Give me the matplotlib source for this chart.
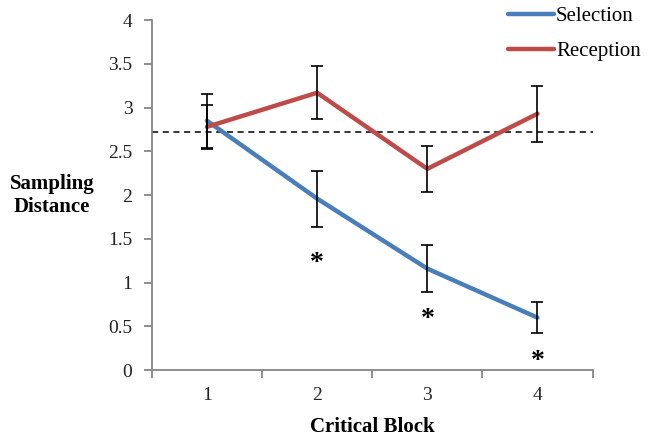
import matplotlib
matplotlib.use("Agg")
import matplotlib.pyplot as plt
from matplotlib.ticker import FixedLocator, NullFormatter

plt.rcParams['font.family'] = ['Liberation Serif', 'DejaVu Serif']

blocks = [1, 2, 3, 4]
block_labels = ["1", "2", "3", "4"]
selection = [2.85, 1.96, 1.16, 0.60]
selection_err = [0.31, 0.32, 0.27, 0.18]
reception = [2.78, 3.17, 2.30, 2.93]
reception_err = [0.25, 0.30, 0.26, 0.32]
baseline = 2.72
star_blocks = [2, 3, 4]
star_y = [1.22, 0.58, 0.10]

fig = plt.figure(figsize=(6.49, 4.37), dpi=100)
ax = fig.add_axes([0.234, 0.153, 0.679, 0.801])

blue = '#4A7EBB'
red = '#BE4B48'
axcol = '#868686'
fs = 14

ax.plot(blocks, selection, color=blue, lw=3.2, label='Selection', solid_capstyle='round', zorder=3)
ax.plot(blocks, reception, color=red, lw=3.2, label='Reception', solid_capstyle='round', zorder=3)
ax.errorbar(blocks, selection, yerr=selection_err, fmt='none', ecolor='black', elinewidth=1.2, capsize=4, capthick=1.2, zorder=4)
ax.errorbar(blocks, reception, yerr=reception_err, fmt='none', ecolor='black', elinewidth=1.2, capsize=4, capthick=1.2, zorder=4)
ax.axhline(baseline, color='black', lw=1.1, ls=(0, (4, 3)), zorder=2, clip_on=False)

for b, s in zip(star_blocks, star_y):
    ax.text(b, s, '*', ha='center', va='center', fontsize=20, fontweight='bold')

ax.set_xlim(0.5, 4.5)
ax.set_ylim(0, 4)
ax.set_yticks([0, 0.5, 1, 1.5, 2, 2.5, 3, 3.5, 4])
ax.set_yticklabels(['0', '0.5', '1', '1.5', '2', '2.5', '3', '3.5', '4'])
ax.set_xticks(blocks)
ax.set_xticklabels(block_labels)
ax.xaxis.set_minor_locator(FixedLocator([0.5, 1.5, 2.5, 3.5, 4.5]))
ax.xaxis.set_minor_formatter(NullFormatter())
ax.tick_params(axis='x', which='major', length=0, pad=12, labelsize=fs, colors='#222222')
ax.tick_params(axis='x', which='minor', length=6, width=1.3, color=axcol, direction='out')
ax.tick_params(axis='y', length=6, width=1.3, color=axcol, direction='out', labelsize=fs, pad=8, labelcolor='#222222')

for s in ['top', 'right']:
    ax.spines[s].set_visible(False)
for s in ['left', 'bottom']:
    ax.spines[s].set_color(axcol)
    ax.spines[s].set_linewidth(1.3)

fig.text(0.080, 0.553, 'Sampling\nDistance', ha='center', va='center', fontsize=15, fontweight='bold', linespacing=1.2)
fig.text(0.573, 0.022, 'Critical Block', ha='center', va='center', fontsize=15, fontweight='bold')

leg = fig.legend(loc='center left', bbox_to_anchor=(0.783, 0.923), frameon=False, fontsize=15,
                 handlelength=2.2, handletextpad=0.1, labelspacing=0.75, borderaxespad=0, borderpad=0)

fig.savefig('out.png', dpi=100)
